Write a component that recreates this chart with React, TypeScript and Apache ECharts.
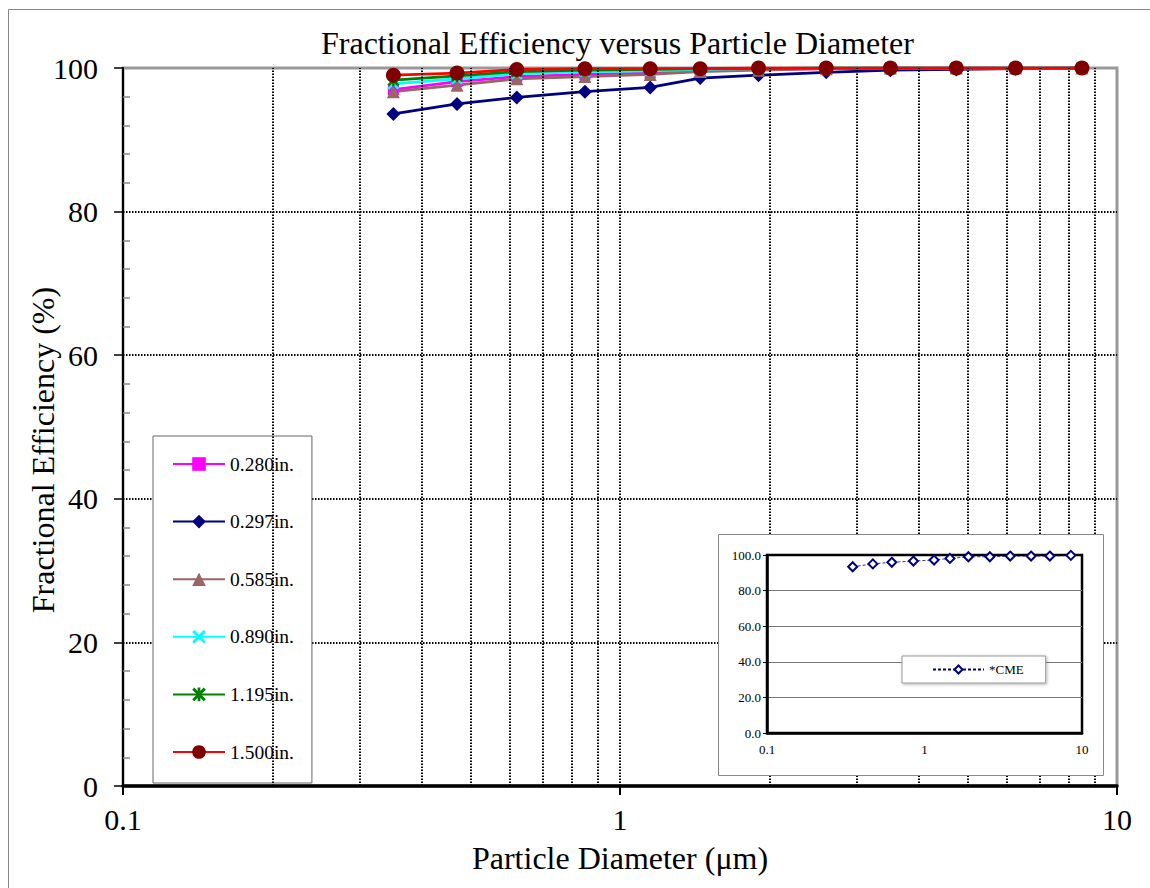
import React, { useEffect, useRef } from 'react';
import * as echarts from 'echarts';

// ---------- data ----------
const diameters = [0.35, 0.47, 0.62, 0.85, 1.15, 1.45, 1.9, 2.6, 3.5, 4.75, 6.25, 8.5];
const seriesNames = ['0.280in.', '0.297in.', '0.585in.', '0.890in.', '1.195in.', '1.500in.'];
const eff0280 = [97.0, 98.1, 98.8, 99.1, 99.3, 99.6, 99.8, 99.9, 100, 100, 100, 100];
const eff0297 = [93.6, 95.0, 95.9, 96.7, 97.3, 98.6, 99.0, 99.4, 99.7, 99.8, 99.9, 100];
const eff0585 = [96.7, 97.6, 98.5, 98.8, 99.1, 99.5, 99.7, 99.9, 100, 100, 100, 100];
const eff0890 = [97.8, 98.5, 99.2, 99.5, 99.6, 99.8, 99.9, 100, 100, 100, 100, 100];
const eff1195 = [98.3, 98.9, 99.5, 99.7, 99.8, 99.9, 99.9, 100, 100, 100, 100, 100];
const eff1500 = [99.0, 99.3, 99.8, 99.9, 99.9, 99.9, 100, 100, 100, 100, 100, 100];
const insetName = '*CME';
const effCME = [93.4, 95.0, 95.9, 96.6, 97.2, 98.1, 99.0, 99.0, 99.4, 99.4, 99.4, 99.8];
const minorGridValues = [0.2, 0.3, 0.4, 0.5, 0.6, 0.7, 0.8, 0.9, 1, 2, 3, 4, 5, 6, 7, 8, 9];

const titleText = 'Fractional Efficiency versus Particle Diameter';
const yName = 'Fractional Efficiency (%)';
const xName = 'Particle Diameter (\u03bcm)';

const FONT = "'Liberation Serif', 'Times New Roman', serif";
const X_SYMBOL = 'path://M0,1.5 L1.5,0 L5,3.5 L8.5,0 L10,1.5 L6.5,5 L10,8.5 L8.5,10 L5,6.5 L1.5,10 L0,8.5 L3.5,5 Z';
const STAR_SYMBOL = 'path://M0,1.5 L1.5,0 L5,3.5 L8.5,0 L10,1.5 L6.5,5 L10,8.5 L8.5,10 L5,6.5 L1.5,10 L0,8.5 L3.5,5 Z M4,0 L6,0 L6,10 L4,10 Z';

const seriesValues = [eff0280, eff0297, eff0585, eff0890, eff1195, eff1500];
const seriesStyles = [
  { line: '#FF00FF', mark: '#FF00FF', symbol: 'rect', size: 11 },
  { line: '#000080', mark: '#000080', symbol: 'diamond', size: 14 },
  { line: '#996666', mark: '#996666', symbol: 'triangle', size: 13 },
  { line: '#00FFFF', mark: '#00FFFF', symbol: X_SYMBOL, size: 12 },
  { line: '#008000', mark: '#008000', symbol: STAR_SYMBOL, size: 12 },
  { line: '#FF0000', mark: '#800000', symbol: 'circle', size: 15 },
];

export default function App() {
  const ref = useRef<HTMLDivElement>(null);
  useEffect(() => {
    if (!ref.current) return;
    const chart = echarts.init(ref.current, undefined, { renderer: 'svg' });

    const mainSeries = seriesNames.map((name, i) => ({
      type: 'line',
      name,
      xAxisIndex: 0,
      yAxisIndex: 0,
      z: 2,
      data: diameters.map((d, j) => [d, seriesValues[i][j]]),
      symbol: seriesStyles[i].symbol,
      symbolSize: seriesStyles[i].size,
      showAllSymbol: true,
      lineStyle: { color: seriesStyles[i].line, width: 2.8 },
      itemStyle: { color: seriesStyles[i].mark },
      emphasis: { disabled: true },
    }));

    const option: any = {
      animation: false,
      backgroundColor: '#fff',
      title: {
        text: titleText,
        left: 316,
        top: 22,
        textStyle: { fontFamily: FONT, fontSize: 32, fontWeight: 'normal', color: '#000' },
      },
      graphic: [
        {
          type: 'rect',
          silent: true,
          z: 0,
          shape: { x: 8.5, y: 9.5, width: 1400, height: 1200 },
          style: { fill: 'none', stroke: '#888', lineWidth: 1 },
        },
        {
          type: 'rect',
          silent: true,
          z: 10,
          shape: { x: 718.5, y: 534.5, width: 385, height: 241 },
          style: { fill: '#fff', stroke: '#888', lineWidth: 1 },
        },
      ],
      grid: [
        {
          left: 123, top: 68, right: 33, bottom: 102,
          show: true, borderColor: '#999', borderWidth: 3, backgroundColor: 'transparent',
        },
        {
          left: 767, top: 555, width: 315, height: 178,
          show: true, borderColor: '#000', borderWidth: 2.5, backgroundColor: 'transparent', z: 11,
        },
      ],
      xAxis: [
        {
          type: 'log', logBase: 10, min: 0.1, max: 10, gridIndex: 0, position: 'bottom',
          axisLine: { show: true, lineStyle: { color: '#000', width: 3.5 } },
          axisTick: { show: true, length: 9, lineStyle: { color: '#000', width: 2 } },
          axisLabel: { fontFamily: FONT, fontSize: 30, lineHeight: 28, color: '#000', margin: 19 },
          splitLine: { show: false },
          name: xName, nameLocation: 'middle', nameGap: 57, nameMoveOverlap: false,
          nameTextStyle: { fontFamily: FONT, fontSize: 32, lineHeight: 30, color: '#000' },
        },
        {
          type: 'log', logBase: 10, min: 0.1, max: 10, gridIndex: 1, position: 'bottom', z: 11,
          axisLine: { show: true, lineStyle: { color: '#000', width: 2.5 } },
          axisTick: { show: false },
          axisLabel: { fontFamily: FONT, fontSize: 13, color: '#000', margin: 10 },
          splitLine: { show: false },
        },
      ],
      yAxis: [
        {
          type: 'value', min: 0, max: 100, interval: 20, gridIndex: 0, position: 'left',
          axisLine: { show: true, lineStyle: { color: '#000', width: 2 } },
          axisTick: { show: true, length: 9, lineStyle: { color: '#000', width: 1.5 } },
          axisLabel: { fontFamily: FONT, fontSize: 30, color: '#000', margin: 25 },
          splitLine: { show: true, showMinLine: false, showMaxLine: false, lineStyle: { color: '#000', width: 2, type: [1.5, 1.5] } },
          name: yName, nameLocation: 'middle', nameGap: 64, nameMoveOverlap: false,
          nameTextStyle: { fontFamily: FONT, fontSize: 32, color: '#000', padding: [0, 46, 0, 0] },
        },
        {
          type: 'value', min: 0, max: 100, interval: 20, gridIndex: 0, position: 'left',
          axisLine: { show: false },
          axisTick: { show: false, inside: true },
          axisLabel: { show: false },
          splitLine: { show: false },
          minorTick: { show: true, splitNumber: 5, length: 7, lineStyle: { color: '#888', width: 1.5 } },
        },
        {
          type: 'value', min: 0, max: 100, interval: 20, gridIndex: 1, position: 'left', z: 11,
          axisLine: { show: true, lineStyle: { color: '#000', width: 2.5 } },
          axisTick: { show: true, length: 4, lineStyle: { color: '#000', width: 1 } },
          axisLabel: { fontFamily: FONT, fontSize: 13, color: '#000', margin: 6, formatter: (v: number) => v.toFixed(1) },
          splitLine: { show: true, showMinLine: false, showMaxLine: false, lineStyle: { color: '#777', width: 1 } },
        },
      ],
      legend: [
        {
          data: seriesNames,
          orient: 'vertical',
          left: 153, top: 436,
          itemWidth: 52, itemHeight: 17, itemGap: 37.6,
          padding: [18, 18, 21, 19],
          backgroundColor: '#fff', borderColor: '#666', borderWidth: 1,
          textStyle: { fontFamily: FONT, fontSize: 19.5, lineHeight: 17, color: '#000' },
          selectedMode: false,
        },
        {
          data: [insetName],
          orient: 'horizontal',
          left: 902, top: 656,
          itemWidth: 51, itemHeight: 10,
          padding: [7, 22, 7, 30],
          backgroundColor: '#fff', borderColor: '#999', borderWidth: 1,
          shadowBlur: 3, shadowColor: 'rgba(0,0,0,0.3)', shadowOffsetX: 1, shadowOffsetY: 1,
          textStyle: { fontFamily: FONT, fontSize: 13, color: '#000' },
          selectedMode: false,
          z: 13,
        },
      ],
      series: [
        {
          type: 'line', name: '_mainGrid', xAxisIndex: 0, yAxisIndex: 0, z: 1, silent: true,
          data: [],
          markLine: {
            silent: true, symbol: ['none', 'none'], label: { show: false }, emphasis: { disabled: true },
            lineStyle: { color: '#000', width: 2, type: [1.5, 1.5] },
            data: minorGridValues.map((v) => ({ xAxis: v })),
          },
        },
        ...mainSeries,
        {
          type: 'line', name: '_insetGrid', xAxisIndex: 1, yAxisIndex: 2, z: 11, silent: true,
          data: [],
          markLine: {
            silent: true, symbol: ['none', 'none'], label: { show: false }, emphasis: { disabled: true },
            lineStyle: { color: '#333', width: 1, type: 'solid' },
            data: minorGridValues.map((v) => ({ xAxis: v })),
          },
        },
        {
          type: 'line', name: insetName, xAxisIndex: 1, yAxisIndex: 2, z: 12,
          data: diameters.map((d, j) => [d, effCME[j]]),
          symbol: 'diamond', symbolSize: 9, showAllSymbol: true,
          lineStyle: { color: '#000080', width: 0.8, type: [3, 2] },
          itemStyle: { color: '#fff', borderColor: '#000080', borderWidth: 2 },
          emphasis: { disabled: true },
        },
      ],
    };
    chart.setOption(option);
    return () => chart.dispose();
  }, []);
  return (
    <div
      ref={ref}
      style={{ position: 'fixed', left: 0, top: 0, width: 1150, height: 888, background: '#fff' }}
    />
  );
}
